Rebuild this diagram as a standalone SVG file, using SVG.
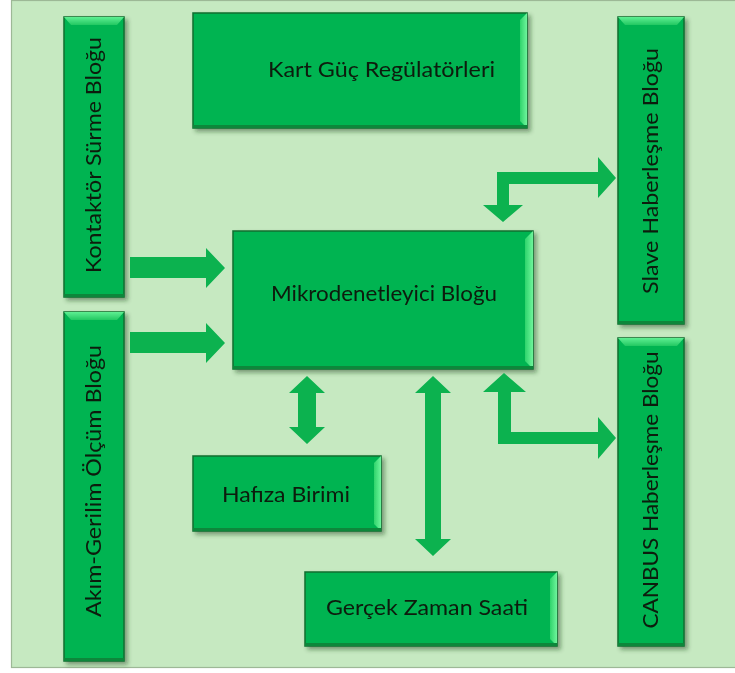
<svg xmlns="http://www.w3.org/2000/svg" width="735" height="673" viewBox="0 0 735 673">
  <defs>
    <filter id="shadow" x="-20%" y="-20%" width="140%" height="140%">
      <feDropShadow dx="3" dy="3" stdDeviation="2.2" flood-color="#1a3a1a" flood-opacity="0.45"/>
    </filter>
    <linearGradient id="bevelR" x1="0" y1="0" x2="1" y2="0">
      <stop offset="0" stop-color="#2fd46b"/>
      <stop offset="1" stop-color="#6ff59c"/>
    </linearGradient>
    <linearGradient id="bevelT" x1="0" y1="1" x2="0" y2="0">
      <stop offset="0" stop-color="#22c862"/>
      <stop offset="1" stop-color="#5eef92"/>
    </linearGradient>
  </defs>
  <style>
    .box { fill: #00b451; stroke: #0a6e2f; stroke-width: 1.5; }
    .dark { fill: #07873b; }
    .lbl { font-family: Lato, "Open Sans", "Liberation Sans", sans-serif; font-size: 21.5px; fill: #0b1a0d; }
    .arrow { fill: #0cb24f; }
  </style>

  <!-- background panel -->
  <rect x="11.5" y="0.5" width="730" height="667" fill="#c6e9c1" stroke="#9db896" stroke-width="1.2"/>

  <!-- Horizontal blocks -->
  <g id="kart-guc" filter="url(#shadow)">
    <rect class="box" x="193" y="13" width="334" height="115"/>
    <polygon fill="url(#bevelR)" points="527,13 527,128 520,121 520,20"/>
    <rect class="dark" x="193" y="125" width="334" height="3"/>
    <text class="lbl" x="381.5" y="77" text-anchor="middle" textLength="227" lengthAdjust="spacingAndGlyphs">Kart Güç Regülatörleri</text>
  </g>

  <g id="mikrodenetleyici" filter="url(#shadow)">
    <rect class="box" x="233" y="231" width="300" height="138"/>
    <polygon fill="url(#bevelR)" points="533,231 533,369 525,361 525,239"/>
    <rect class="dark" x="233" y="366" width="300" height="3"/>
    <text class="lbl" x="384" y="301" text-anchor="middle" textLength="226" lengthAdjust="spacingAndGlyphs">Mikrodenetleyici Bloğu</text>
  </g>

  <g id="hafiza" filter="url(#shadow)">
    <rect class="box" x="193" y="456" width="188" height="75"/>
    <polygon fill="url(#bevelR)" points="381,456 381,531 374,524 374,463"/>
    <rect class="dark" x="193" y="528" width="188" height="3"/>
    <text class="lbl" x="286" y="502" text-anchor="middle" textLength="128" lengthAdjust="spacingAndGlyphs">Hafıza Birimi</text>
  </g>

  <g id="gercek-zaman" filter="url(#shadow)">
    <rect class="box" x="305" y="572" width="252" height="74"/>
    <polygon fill="url(#bevelR)" points="557,572 557,646 550,639 550,579"/>
    <rect class="dark" x="305" y="643" width="252" height="3"/>
    <text class="lbl" x="427" y="615" text-anchor="middle" textLength="202" lengthAdjust="spacingAndGlyphs">Gerçek Zaman Saati</text>
  </g>

  <!-- Vertical blocks -->
  <g id="kontaktor" filter="url(#shadow)">
    <rect class="box" x="64" y="17" width="60" height="280"/>
    <polygon fill="url(#bevelT)" points="64,17 124,17 117,25 71,25"/>
    <rect class="dark" x="64" y="294" width="60" height="3"/>
    <text class="lbl" transform="translate(101,155) rotate(-90)" x="0" y="0" text-anchor="middle" textLength="236" lengthAdjust="spacingAndGlyphs">Kontaktör Sürme Bloğu</text>
  </g>

  <g id="akim-gerilim" filter="url(#shadow)">
    <rect class="box" x="64" y="312" width="60" height="349"/>
    <polygon fill="url(#bevelT)" points="64,312 124,312 117,320 71,320"/>
    <rect class="dark" x="64" y="658" width="60" height="3"/>
    <text class="lbl" transform="translate(101,481) rotate(-90)" x="0" y="0" text-anchor="middle" textLength="272" lengthAdjust="spacingAndGlyphs">Akım-Gerilim Ölçüm Bloğu</text>
  </g>

  <g id="slave" filter="url(#shadow)">
    <rect class="box" x="618" y="17" width="66" height="307"/>
    <polygon fill="url(#bevelT)" points="618,17 684,17 677,25 625,25"/>
    <rect class="dark" x="618" y="321" width="66" height="3"/>
    <text class="lbl" transform="translate(658,171) rotate(-90)" x="0" y="0" text-anchor="middle" textLength="246" lengthAdjust="spacingAndGlyphs">Slave Haberleşme Bloğu</text>
  </g>

  <g id="canbus" filter="url(#shadow)">
    <rect class="box" x="618" y="338" width="66" height="308"/>
    <polygon fill="url(#bevelT)" points="618,338 684,338 677,346 625,346"/>
    <rect class="dark" x="618" y="643" width="66" height="3"/>
    <text class="lbl" transform="translate(658,490) rotate(-90)" x="0" y="0" text-anchor="middle" textLength="277" lengthAdjust="spacingAndGlyphs">CANBUS Haberleşme Bloğu</text>
  </g>

  <!-- Connectors -->
  <g id="connectors">
    <polygon class="arrow" points="130,257 206,257 206,248 225,268 206,288 206,278 130,278"/>
    <polygon class="arrow" points="130,332 206,332 206,323 225,343 206,363 206,353 130,353"/>
    <polygon class="arrow" points="307,376 325,393 316,393 316,427 325,427 307,444 289,427 298,427 298,393 289,393"/>
    <polygon class="arrow" points="433,376 451,393 441,393 441,539 451,539 433,556 415,539 425,539 425,393 415,393"/>
    <polygon class="arrow" points="497,172 598,172 598,157 616,178 598,198 598,184 509,184 509,205 523,205 503,222 483,205 497,205"/>
    <polygon class="arrow" points="504,373 526,392 511,392 511,432 598,432 598,417 616,438 598,459 598,444 498,444 498,392 483,392"/>
  </g>
</svg>
